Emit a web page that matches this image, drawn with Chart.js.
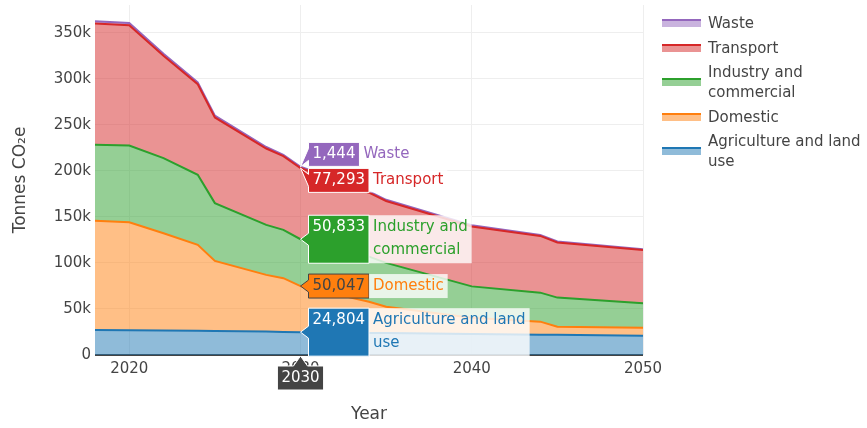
<!DOCTYPE html>
<html>
<head>
<meta charset="utf-8">
<script src="https://cdn.jsdelivr.net/npm/chart.js@4/dist/chart.umd.min.js"></script>
<style>
  body { margin: 0; background: #fff; }
  #wrap { position: relative; width: 867px; height: 428px; }
  #legend { position: absolute; left: 662px; top: 13px; font: 15px "DejaVu Sans"; color: #444; }
  .item { display: flex; align-items: center; margin-bottom: 4.5px; line-height: 20px; white-space: pre-line; }
  .sym { width: 39px; height: 6px; margin-right: 7px; flex: none; }
</style>
</head>
<body>
<div id="wrap">
  <canvas id="myChart" width="867" height="428"></canvas>
  <div id="legend"></div>
</div>
<script>
// data (tonnes CO2e per year)
const years = [2018, 2020, 2022, 2024, 2025, 2028, 2029, 2030, 2034, 2035, 2040, 2044, 2045, 2050];
const agriculture = [27200, 27000, 26700, 26300, 26100, 25400, 25100, 24804, 24000, 23800, 22800, 22000, 21900, 20900];
const domestic = [118500, 117200, 105500, 93300, 76100, 61600, 58300, 50047, 33900, 28700, 17700, 14200, 8900, 8800];
const industry = [82600, 83300, 81600, 76100, 62700, 54300, 52500, 50833, 48900, 47500, 34000, 31500, 31500, 26500];
const transport = [131500, 130600, 111000, 98300, 93000, 82900, 80000, 77293, 69400, 67200, 65100, 61600, 59800, 57700];
const waste = [2500, 2400, 2200, 2000, 1900, 1600, 1500, 1444, 1300, 1300, 1200, 1100, 1100, 1000];

const seriesNames = ['Agriculture and land\nuse', 'Domestic', 'Industry and\ncommercial', 'Transport', 'Waste'];
const seriesColors = ['#1f77b4', '#ff7f0e', '#2ca02c', '#d62728', '#9467bd'];
const seriesValues = [agriculture, domestic, industry, transport, waste];

const xTicks = [2020, 2030, 2040, 2050];
const yTicks = [0, 50000, 100000, 150000, 200000, 250000, 300000, 350000];
const hoverYear = 2030;

function fade(hex, a) {
    var r = parseInt(hex.slice(1, 3), 16), g = parseInt(hex.slice(3, 5), 16), b = parseInt(hex.slice(5, 7), 16);
    return `rgba(${r}, ${g}, ${b}, ${a})`;
}

function isLight(hex) {
    var r = parseInt(hex.slice(1, 3), 16), g = parseInt(hex.slice(3, 5), 16), b = parseInt(hex.slice(5, 7), 16);
    return (r * 299 + g * 587 + b * 114) / 1000 >= 128;
}

const datasets = seriesValues.map((vals, i) => ({
    label: seriesNames[i],
    data: vals.map((v, j) => ({ x: years[j], y: v })),
    borderColor: seriesColors[i],
    backgroundColor: fade(seriesColors[i], 0.5),
    borderWidth: 2,
    pointRadius: 0,
    tension: 0,
    fill: i == 0 ? 'origin' : '-1'
}));

// plotly-like hover labels at one year
const hoverLabels = {
    id: 'hoverLabels',
    afterDraw(chart) {
        const ctx = chart.ctx;
        const idx = years.indexOf(hoverYear);
        const gap = 2, arrow = 8, pad = 4, lineH = 24;
        ctx.save();
        ctx.font = '15px "DejaVu Sans"';
        ctx.textBaseline = 'middle';

        var labels = chart.data.datasets.map((ds, i) => {
            const pt = chart.getDatasetMeta(i).data[idx];
            const lines = ds.label.split('\n');
            return { px: pt.x, py: pt.y, h: lines.length * lineH, lines: lines,
                     color: ds.borderColor, text: ds.data[idx].y.toLocaleString('en-US') };
        });
        labels.sort((a, b) => a.py - b.py);

        // push overlapping labels apart
        var groups = labels.map(l => [l]);
        function place(g) {
            var off = 0, sum = 0;
            g.forEach(l => { l.rel = off + l.h / 2; off += l.h + gap; sum += l.py - l.rel; });
            var top = sum / g.length;
            g.forEach(l => { l.cy = top + l.rel; });
        }
        groups.forEach(place);
        var merged = true;
        while (merged) {
            merged = false;
            for (var i = 0; i < groups.length - 1; i++) {
                var a = groups[i][groups[i].length - 1], b = groups[i + 1][0];
                if (a.cy + a.h / 2 + gap > b.cy - b.h / 2) {
                    groups.splice(i, 2, groups[i].concat(groups[i + 1]));
                    place(groups[i]);
                    merged = true;
                    break;
                }
            }
        }

        labels.forEach(l => {
            const bx = l.px + arrow;
            const w = ctx.measureText(l.text).width + pad * 2;
            const oy = l.cy - l.py;
            const top = l.cy - l.h / 2, bottom = l.cy + l.h / 2;
            const light = isLight(l.color);

            ctx.beginPath();
            ctx.moveTo(l.px, l.py);
            ctx.lineTo(bx, l.py + oy + 6);
            ctx.lineTo(bx, bottom);
            ctx.lineTo(bx + w, bottom);
            ctx.lineTo(bx + w, top);
            ctx.lineTo(bx, top);
            ctx.lineTo(bx, l.py + oy - 6);
            ctx.closePath();
            ctx.fillStyle = l.color;
            ctx.fill();
            ctx.lineWidth = 1;
            ctx.strokeStyle = light ? '#444' : '#fff';
            ctx.stroke();

            ctx.fillStyle = light ? '#444' : '#fff';
            ctx.textAlign = 'left';
            ctx.fillText(l.text, bx + pad, top + 12);

            // series name beside the value
            const nw = Math.max(...l.lines.map(t => ctx.measureText(t).width)) + pad * 2;
            ctx.fillStyle = 'rgba(255, 255, 255, 0.8)';
            ctx.fillRect(bx + w, top, nw, l.h);
            ctx.fillStyle = l.color;
            l.lines.forEach((t, k) => ctx.fillText(t, bx + w + pad, top + 12 + k * 23));
        });

        // x label under the axis
        const xp = chart.scales.x.getPixelForValue(hoverYear);
        const yb = chart.chartArea.bottom + 1;
        const txt = String(hoverYear);
        const tw = ctx.measureText(txt).width + pad * 2;
        ctx.beginPath();
        ctx.moveTo(xp, yb);
        ctx.lineTo(xp + 7, yb + 10);
        ctx.lineTo(xp + tw / 2, yb + 10);
        ctx.lineTo(xp + tw / 2, yb + 34);
        ctx.lineTo(xp - tw / 2, yb + 34);
        ctx.lineTo(xp - tw / 2, yb + 10);
        ctx.lineTo(xp - 7, yb + 10);
        ctx.closePath();
        ctx.fillStyle = '#444';
        ctx.fill();
        ctx.strokeStyle = '#fff';
        ctx.stroke();
        ctx.fillStyle = '#fff';
        ctx.textAlign = 'center';
        ctx.fillText(txt, xp, yb + 22);
        ctx.restore();
    }
};

Chart.defaults.font.family = '"DejaVu Sans"';
Chart.defaults.font.size = 15;
Chart.defaults.color = '#444';

var ctx = document.getElementById('myChart').getContext('2d');
var myChart = new Chart(ctx, {
    type: 'line',
    data: { datasets: datasets },
    plugins: [hoverLabels],
    options: {
        responsive: false,
        animation: false,
        layout: { padding: { top: 5, right: 224, bottom: 0, left: 0 } },
        plugins: { legend: { display: false }, tooltip: { enabled: false } },
        scales: {
            x: {
                type: 'linear',
                min: 2018,
                max: 2050,
                afterBuildTicks: scale => { scale.ticks = xTicks.map(v => ({ value: v })); },
                afterFit: scale => { scale.height = 73; scale.paddingLeft = 0; scale.paddingRight = 0; },
                ticks: { padding: 5, callback: v => String(v) },
                grid: { color: '#eee', drawTicks: false },
                border: { display: false },
                title: { display: true, text: 'Year', font: { size: 17 }, padding: { bottom: 3 } }
            },
            y: {
                stacked: true,
                min: 0,
                max: 380000,
                afterBuildTicks: scale => { scale.ticks = yTicks.map(v => ({ value: v })); },
                afterFit: scale => { scale.width = 95; scale.paddingTop = 0; scale.paddingBottom = 0; },
                ticks: { padding: 4, callback: v => v == 0 ? '0' : (v / 1000) + 'k' },
                grid: {
                    drawTicks: false,
                    color: c => c.tick && c.tick.value == 0 ? '#444' : '#eee',
                    lineWidth: c => c.tick && c.tick.value == 0 ? 2 : 1
                },
                border: { display: false },
                title: { display: true, text: 'Tonnes CO₂e', font: { size: 17 }, padding: { top: 10 } }
            }
        }
    }
});

// legend, top trace first like the original
var legendHtml = '';
for (var i = seriesNames.length - 1; i >= 0; i--) {
    legendHtml += `<div class="item"><div class="sym" style="background:${fade(seriesColors[i], 0.5)};border-top:2px solid ${seriesColors[i]}"></div><span>${seriesNames[i]}</span></div>`;
}
document.getElementById('legend').innerHTML = legendHtml;
</script>
</body>
</html>
